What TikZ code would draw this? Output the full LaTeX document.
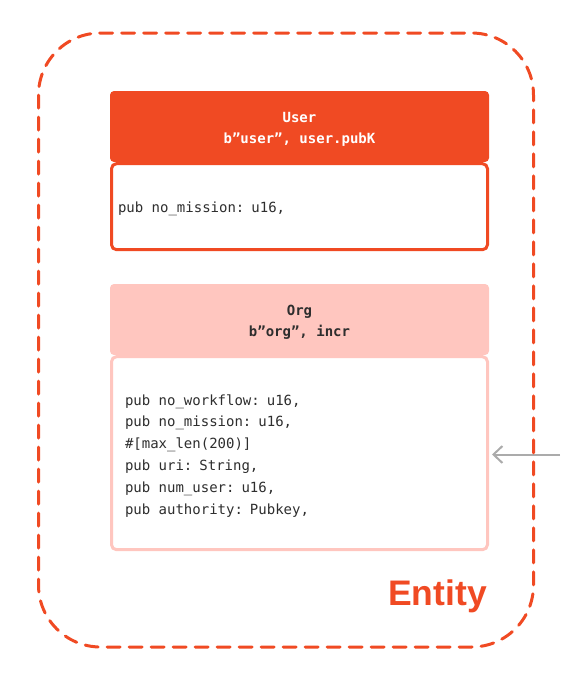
\documentclass[tikz,border=0pt]{standalone}
\usepackage{fontspec}
\setmainfont{Liberation Sans}
\setmonofont{DejaVu Sans Mono}
\usetikzlibrary{positioning,arrows.meta}
\definecolor{entityred}{HTML}{F04A23}
\definecolor{orgpink}{HTML}{FFC6BF}
\definecolor{codegray}{HTML}{2E2E2E}
\definecolor{arrowgray}{HTML}{ABABAB}
% full-width spaces in code text, and a taller first line
\newcommand{\codespace}{\spaceskip=\fontcharwd\font`x\relax}
\newcommand{\firstline}{\rule{0pt}{15.5pt}}

\begin{document}
\begin{tikzpicture}[x=1pt,y=-1pt,
    head/.style={rounded corners=4pt,minimum width=379pt,minimum height=71pt,
        text width=379pt,inner sep=0pt,execute at begin node={\centering\codespace\firstline},
        font=\ttfamily\bfseries\fontsize{14}{21}\selectfont},
    body/.style={rounded corners=5pt,line width=3pt,fill=white,minimum width=376pt,
        text width=350pt,inner sep=0pt,text=codegray,
        execute at begin node={\raggedright\codespace\firstline},
        font=\ttfamily\fontsize{14}{21.8}\selectfont}]
    \useasboundingbox (0,0) rectangle (560,683);

    % User
    \node[head,fill=entityred,text=white] (user) at (299.5,126.5) {User\\b”user”, user.pubK};
    \node[body,draw=entityred,minimum height=86pt,text width=363pt,below=0pt of user]
        (userbody) {pub no\_mission: u16,};

    % Org
    \node[head,fill=orgpink,text=codegray] (org) at (299.5,319.5) {Org\\b”org”, incr};
    \node[body,draw=orgpink,minimum height=193pt,text width=349pt,below=0pt of org]
        (orgbody) {pub no\_workflow: u16,\\
            pub no\_mission: u16,\\
            \#[max\_len(200)]\\
            pub uri: String,\\
            pub num\_user: u16,\\
            pub authority: Pubkey,};

    % Link
    \coordinate (src) at (560,454.5);
    \draw[-{Straight Barb[length=9pt,width=17pt]},arrowgray,line width=2pt,
        shorten >=3pt] (src) -- (src -| orgbody.east);

    % Entity frame
    \draw[entityred,line width=3pt,dash pattern=on 13pt off 9pt,line cap=round,
        rounded corners=62pt] (38.5,33) rectangle (533.5,647);
    \node[anchor=base east,inner sep=0pt,text=entityred,
        font=\bfseries\fontsize{35.5}{36}\selectfont] (entity) at (487,605) {Entity};
\end{tikzpicture}
\end{document}
